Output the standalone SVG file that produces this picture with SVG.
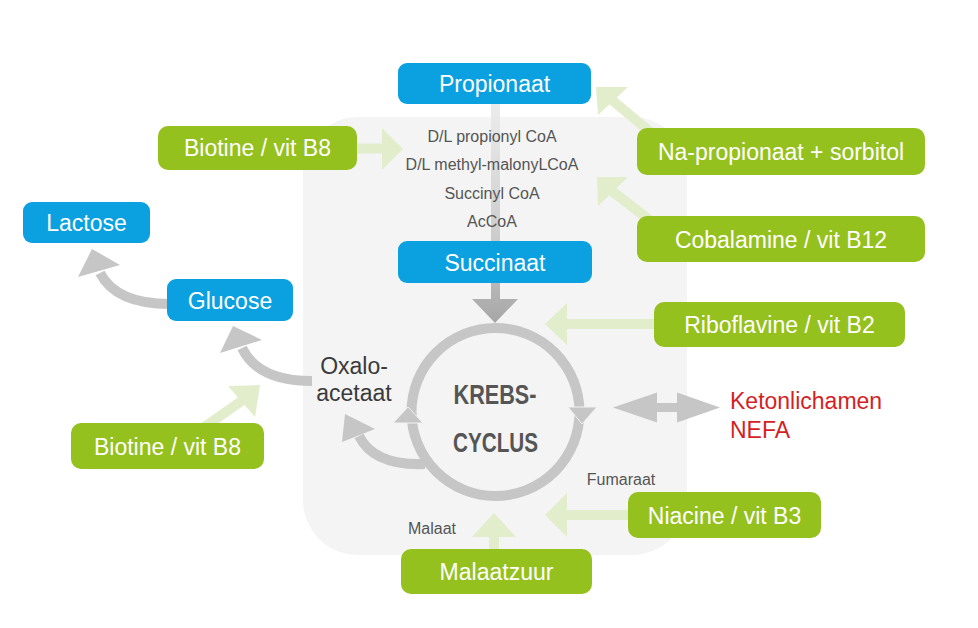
<svg xmlns="http://www.w3.org/2000/svg" width="978" height="628" viewBox="0 0 978 628">
<defs>
<linearGradient id="vgrad" gradientUnits="userSpaceOnUse" x1="0" y1="104" x2="0" y2="323">
<stop offset="0" stop-color="#ececec"/>
<stop offset="0.6" stop-color="#cdcdcd"/>
<stop offset="1" stop-color="#a6a6a6"/>
</linearGradient>
</defs>
<style>
.blue{fill:#0ba0e0}
.green{fill:#95c11f}
.bt{font-family:"Liberation Sans",Arial,sans-serif;font-size:23px;fill:#ffffff;text-anchor:middle}
.sm{font-family:"Liberation Sans",Arial,sans-serif;font-size:16px;fill:#555555;text-anchor:middle}
.md{font-family:"Liberation Sans",Arial,sans-serif;font-size:23px;fill:#3a3a3a;text-anchor:middle}
.red{font-family:"Liberation Sans",Arial,sans-serif;font-size:23px;fill:#d41f26}
.kc{font-family:"Liberation Sans",Arial,sans-serif;font-size:28px;font-weight:bold;fill:#555555;text-anchor:middle}
.gs{stroke:#e1edcb;stroke-width:10;fill:none}
.gh{fill:#e1edcb}
.ys{stroke:#c6c6c6;stroke-width:10;fill:none}
.yh{fill:#c6c6c6}
</style>
<rect x="0" y="0" width="978" height="628" fill="#ffffff"/>
<rect id="region" x="303" y="117" width="384" height="438" rx="55" ry="55" fill="#f4f4f4"/>

<g id="connectors">
<!-- vertical propionaat -> krebs -->
<rect x="491" y="104" width="9" height="198" fill="url(#vgrad)"/>
<polygon points="472,299 518,299 495,323" fill="url(#vgrad)"/>
<!-- krebs ring -->
<circle cx="495.5" cy="412" r="84" fill="none" stroke="#c6c6c6" stroke-width="10"/>
<polygon points="393,423 423,423 408,407" class="yh" stroke="#f2f2f2" stroke-width="1"/>
<polygon points="568,407 597,407 582,424" class="yh" stroke="#f2f2f2" stroke-width="1"/>
<!-- krebs -> oxaloacetaat -->
<path d="M 425 464 Q 374 466 359 436" class="ys"/>
<polygon points="342,442 375,429 345,414" class="yh"/>
<!-- oxaloacetaat -> glucose -->
<path d="M 312 381 Q 258 381 242 348" class="ys"/>
<polygon points="220,353 262,340 233,326" class="yh"/>
<!-- glucose -> lactose -->
<path d="M 170 304 Q 116 304 100 273" class="ys"/>
<polygon points="78,277 120,265 92,249" class="yh"/>
<!-- double arrow ketonlichamen -->
<rect x="655" y="403" width="24" height="9" class="yh"/>
<polygon points="613,407.5 657,392.5 657,422.5" class="yh"/>
<polygon points="720,407.5 677,392.5 677,422.5" class="yh"/>
<!-- green arrows -->
<line x1="350" y1="148.5" x2="384" y2="148.5" class="gs"/>
<polygon points="382,128 382,170 403,149" class="gh"/>
<line x1="655" y1="136" x2="612" y2="100" class="gs"/>
<polygon points="598,115 628,87 596,87" class="gh"/>
<line x1="652" y1="222" x2="612" y2="191" class="gs"/>
<polygon points="598,206 628,177 597,177" class="gh"/>
<line x1="660" y1="324" x2="565" y2="324" class="gs"/>
<polygon points="567,303 567,345 545,324" class="gh"/>
<line x1="635" y1="515" x2="565" y2="515" class="gs"/>
<polygon points="567,493 567,537 545,515" class="gh"/>
<line x1="494" y1="555" x2="494" y2="535" class="gs"/>
<polygon points="472,537 516,537 494,513" class="gh"/>
<line x1="200" y1="430" x2="243" y2="400" class="gs"/>
<polygon points="228,386 255,417 260,385" class="gh"/>
</g>

<g id="labels">
<text class="sm" x="492" y="142">D/L propionyl CoA</text>
<text class="sm" x="492" y="170">D/L methyl-malonyLCoA</text>
<text class="sm" x="492" y="199">Succinyl CoA</text>
<text class="sm" x="492" y="227">AcCoA</text>
<text class="sm" x="621" y="485">Fumaraat</text>
<text class="sm" x="432" y="534">Malaat</text>
<text class="md" x="354" y="374">Oxalo-</text>
<text class="md" x="354" y="401">acetaat</text>
<text class="kc" x="495" y="404" textLength="83" lengthAdjust="spacingAndGlyphs">KREBS-</text>
<text class="kc" x="495.5" y="452" textLength="85" lengthAdjust="spacingAndGlyphs">CYCLUS</text>
<text class="red" x="730" y="409">Ketonlichamen</text>
<text class="red" x="730" y="438">NEFA</text>
</g>

<g id="propionaat"><rect class="blue" x="398" y="63" width="193" height="41" rx="9"/><text class="bt" x="494.5" y="92">Propionaat</text></g>
<g id="succinaat"><rect class="blue" x="398" y="241" width="194" height="42" rx="9"/><text class="bt" x="495" y="270.5">Succinaat</text></g>
<g id="lactose"><rect class="blue" x="23" y="202" width="127" height="41" rx="9"/><text class="bt" x="86.5" y="231">Lactose</text></g>
<g id="glucose"><rect class="blue" x="167" y="279" width="126" height="42" rx="9"/><text class="bt" x="230" y="308.5">Glucose</text></g>

<g id="biotine1"><rect class="green" x="158" y="126" width="199" height="44" rx="10"/><text class="bt" x="257.5" y="156">Biotine / vit B8</text></g>
<g id="napropionaat"><rect class="green" x="637" y="128" width="288" height="47" rx="10"/><text class="bt" x="781" y="160">Na-propionaat + sorbitol</text></g>
<g id="cobalamine"><rect class="green" x="637" y="216" width="288" height="46" rx="10"/><text class="bt" x="781" y="247.5">Cobalamine / vit B12</text></g>
<g id="riboflavine"><rect class="green" x="654" y="302" width="251" height="45" rx="10"/><text class="bt" x="779.5" y="333">Riboflavine / vit B2</text></g>
<g id="niacine"><rect class="green" x="628" y="492" width="193" height="46" rx="10"/><text class="bt" x="724.5" y="523.5">Niacine / vit B3</text></g>
<g id="malaatzuur"><rect class="green" x="401" y="549" width="191" height="45" rx="10"/><text class="bt" x="496.5" y="580">Malaatzuur</text></g>
<g id="biotine2"><rect class="green" x="71" y="423" width="193" height="46" rx="10"/><text class="bt" x="167.5" y="454.5">Biotine / vit B8</text></g>
</svg>
